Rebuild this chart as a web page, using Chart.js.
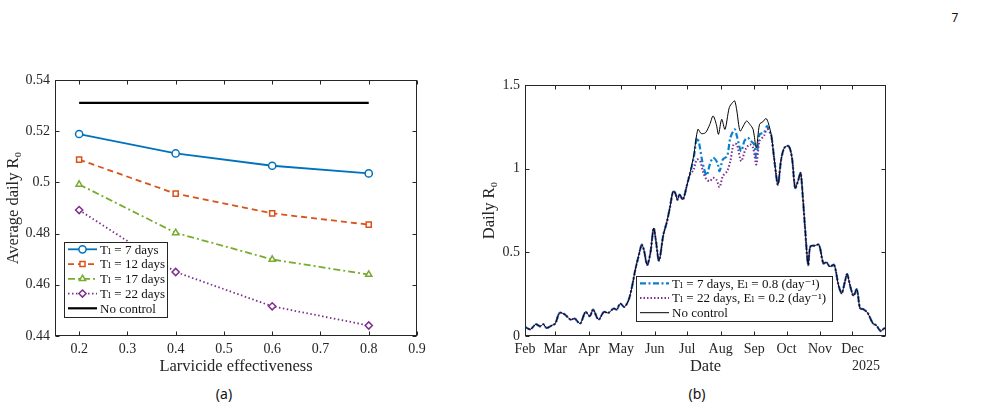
<!DOCTYPE html>
<html>
<head>
<meta charset="utf-8">
<script src="https://cdn.jsdelivr.net/npm/chart.js@4/dist/chart.umd.min.js"></script>
<style>
  html, body { margin: 0; padding: 0; background: #fff; }
  body { width: 985px; height: 408px; position: relative; overflow: hidden; }
  canvas { position: absolute; }
  .cap { position: absolute; font-family: "Noto Sans", "DejaVu Sans", sans-serif; font-size: 14px; color: #111; transform: translate(-50%, -50%); }
</style>
</head>
<body>
<canvas id="chart-a" width="450" height="320" style="left:0;top:60px"></canvas>
<canvas id="chart-b" width="450" height="320" style="left:470px;top:60px"></canvas>
<div class="cap" style="left:224px;top:393px">(a)</div>
<div class="cap" style="left:697px;top:393px">(b)</div>
<div class="cap" style="left:955px;top:17px;font-size:12px">7</div>
<script>
// --- DATA (a) ---
const effectiveness = [0.2, 0.4, 0.6, 0.8];
const r0T7 = [0.5189, 0.5113, 0.5065, 0.5035];
const r0T12 = [0.5089, 0.4956, 0.4879, 0.4835];
const r0T17 = [0.4992, 0.4803, 0.4699, 0.4640];
const r0T22 = [0.4892, 0.4650, 0.4516, 0.4441];
const r0NoControlAvg = [0.5311, 0.5311, 0.5311, 0.5311];
const xTicksA = [0.2, 0.3, 0.4, 0.5, 0.6, 0.7, 0.8, 0.9];
const yTicksA = [0.44, 0.46, 0.48, 0.5, 0.52, 0.54];

// --- DATA (b) --- day of year 2025
const days = [32, 37, 42, 46, 49, 52, 57, 60, 64, 69, 74, 78, 83, 88, 92, 95, 100, 105, 109, 114, 117, 120, 124, 128, 131, 134, 137, 140, 142, 145, 148, 151, 153, 156, 160, 163, 166, 169, 171, 173, 175, 178, 182, 184, 188, 192, 195, 199, 203, 206, 209, 211, 214, 217, 221, 224, 226, 228, 231, 234, 237, 240, 243, 246, 249, 252, 255, 257, 260, 263, 266, 269, 272, 276, 279, 282, 285, 287, 289, 291, 294, 296, 300, 304, 308, 311, 314, 318, 322, 325, 328, 330, 333, 336, 339, 342, 345, 349, 354, 357, 361, 364, 366];
const r0NoControl = [0.054, 0.04, 0.07, 0.058, 0.07, 0.048, 0.064, 0.074, 0.138, 0.128, 0.098, 0.104, 0.074, 0.144, 0.118, 0.158, 0.098, 0.144, 0.138, 0.164, 0.158, 0.194, 0.174, 0.218, 0.294, 0.395, 0.475, 0.545, 0.515, 0.425, 0.495, 0.645, 0.575, 0.45, 0.605, 0.675, 0.765, 0.865, 0.855, 0.815, 0.845, 0.815, 0.905, 0.955, 1.075, 1.235, 1.21, 1.215, 1.265, 1.315, 1.265, 1.205, 1.295, 1.235, 1.365, 1.395, 1.405, 1.345, 1.225, 1.255, 1.285, 1.265, 1.235, 1.125, 1.265, 1.28, 1.30, 1.275, 1.195, 1.035, 0.905, 1.055, 1.125, 1.135, 1.065, 0.885, 0.935, 0.975, 0.835, 0.655, 0.425, 0.535, 0.54, 0.545, 0.435, 0.44, 0.415, 0.425, 0.305, 0.255, 0.325, 0.37, 0.295, 0.24, 0.28, 0.165, 0.16, 0.138, 0.074, 0.064, 0.03, 0.044, 0.05];
// controlled runs, where they differ from no control (Jul-Sep)
const daysT7 = [188, 191, 193, 196, 200, 203, 206, 210, 212, 215, 219, 222, 226, 228, 232, 235, 238, 241, 244, 246, 249, 253, 256, 258];
const r0T7E08 = [1.06, 1.185, 1.155, 1.045, 0.96, 1.025, 1.065, 1.035, 0.985, 1.055, 1.075, 1.185, 1.235, 1.195, 1.105, 1.165, 1.185, 1.165, 1.145, 1.065, 1.205, 1.215, 1.255, 1.225];
const daysT22 = [188, 191, 194, 197, 200, 203, 206, 209, 212, 215, 219, 222, 225, 228, 232, 236, 240, 243, 246, 249, 253, 256, 259];
const r0T22E02 = [0.995, 1.055, 1.045, 0.975, 0.935, 0.925, 0.945, 0.935, 0.89, 0.955, 0.985, 1.045, 1.145, 1.145, 1.045, 1.115, 1.145, 1.125, 1.025, 1.165, 1.195, 1.235, 1.215];
const monthDays = [32, 60, 91, 121, 152, 182, 213, 244, 274, 305, 335];
const monthLabels = ['Feb', 'Mar', 'Apr', 'May', 'Jun', 'Jul', 'Aug', 'Sep', 'Oct', 'Nov', 'Dec'];
const yTicksB = [0, 0.5, 1, 1.5];

// --- HELPERS ---
const SERIF = '"Liberation Serif", "DejaVu Serif", serif';
const AX = '#262626';
const pts = (xs, ys) => xs.map((x, i) => ({ x, y: ys[i] }));
const fmtTick = (v) => String(Number(v.toFixed(2)));

// join a controlled window into the shared no-control curve
function withWindow(wx, wy) {
  const first = wx[0], last = wx[wx.length - 1];
  const before = pts(days, r0NoControl).filter(p => p.x < first);
  const after = pts(days, r0NoControl).filter(p => p.x > last);
  return before.concat(pts(wx, wy), after);
}

Chart.defaults.font.family = SERIF;
Chart.defaults.color = AX;

const boxAxes = {
  id: 'boxAxes',
  afterDatasetsDraw(chart) {
    const { ctx, chartArea: a, scales } = chart;
    const L = Math.round(a.left) + 0.5, R = Math.round(a.right) - 0.5;
    const T = Math.round(a.top) + 0.5, B = Math.round(a.bottom) - 0.5;
    const len = 4;
    ctx.save();
    ctx.strokeStyle = AX;
    ctx.lineWidth = 1;
    ctx.strokeRect(L, T, R - L, B - T);
    ctx.beginPath();
    scales.x.ticks.forEach(t => {
      const px = Math.round(scales.x.getPixelForValue(t.value)) + 0.5;
      ctx.moveTo(px, B); ctx.lineTo(px, B - len);
      ctx.moveTo(px, T); ctx.lineTo(px, T + len);
    });
    scales.y.ticks.forEach(t => {
      const py = Math.round(scales.y.getPixelForValue(t.value)) + 0.5;
      ctx.moveTo(L, py); ctx.lineTo(L + len, py);
      ctx.moveTo(R, py); ctx.lineTo(R - len, py);
    });
    ctx.stroke();
    const extra = chart.options.plugins.boxAxes && chart.options.plugins.boxAxes.note;
    if (extra) {
      ctx.font = '14px ' + SERIF;
      ctx.fillStyle = AX;
      ctx.textAlign = 'right';
      ctx.textBaseline = 'middle';
      ctx.fillText(extra.text, a.right - extra.dx, extra.y);
    }
    ctx.restore();
  }
};

const boxLegend = {
  id: 'boxLegend',
  afterDraw(chart) {
    const o = chart.options.plugins.boxLegend;
    if (!o) return;
    const { ctx } = chart;
    ctx.save();
    ctx.fillStyle = '#fff';
    ctx.fillRect(o.left, o.top, o.width, o.height);
    ctx.strokeStyle = AX;
    ctx.lineWidth = 1;
    ctx.strokeRect(o.left + 0.5, o.top + 0.5, o.width - 1, o.height - 1);
    ctx.font = o.fontSize + 'px ' + SERIF;
    ctx.textBaseline = 'middle';
    ctx.textAlign = 'left';
    o.items.forEach((di, i) => {
      const ds = chart.data.datasets[di];
      const y = o.top + o.first + i * o.rowH;
      const x0 = o.left + 4, x1 = x0 + o.sample;
      ctx.save();
      ctx.strokeStyle = ds.borderColor;
      ctx.lineWidth = ds.borderWidth;
      ctx.setLineDash(ds.borderDash || []);
      ctx.beginPath(); ctx.moveTo(x0, y); ctx.lineTo(x1, y); ctx.stroke();
      ctx.restore();
      if (ds.pointRadius) {
        ctx.save();
        ctx.strokeStyle = ds.borderColor;
        ctx.fillStyle = ds.pointBackgroundColor;
        ctx.lineWidth = ds.pointBorderWidth;
        Chart.helpers.drawPoint(ctx, { pointStyle: ds.pointStyle, radius: ds.pointRadius, rotation: 0, borderWidth: ds.pointBorderWidth }, (x0 + x1) / 2, y);
        ctx.restore();
      }
      ctx.fillStyle = '#111';
      ctx.fillText(ds.label, x1 + 3, y + 1);
    });
    ctx.restore();
  }
};

function baseScales() {
  return {
    x: {
      type: 'linear',
      grid: { display: false, drawTicks: false },
      border: { display: false },
      ticks: { font: { size: 14 }, color: AX, padding: 5, autoSkip: false, maxRotation: 0 },
      title: { display: true, font: { size: 16.5 }, color: AX, padding: { top: 0, bottom: 3 } }
    },
    y: {
      type: 'linear',
      grid: { display: false, drawTicks: false },
      border: { display: false },
      ticks: { font: { size: 14 }, color: AX, padding: 5, autoSkip: false },
      title: { display: true, font: { size: 16.5 }, color: AX, padding: { top: 4, bottom: 0 } }
    }
  };
}

// --- CHART (a) ---
const mk = (label, data, color, dash, style) => ({
  label, data: pts(effectiveness, data), borderColor: color, borderWidth: 1.8, borderDash: dash,
  pointStyle: style, pointRadius: 3.6, pointBorderWidth: 1.5, pointBackgroundColor: '#fff', pointBorderColor: color
});
const scalesA = baseScales();
scalesA.x.min = 0.15; scalesA.x.max = 0.9;
scalesA.x.afterBuildTicks = (s) => { s.ticks = xTicksA.map(v => ({ value: v })); };
scalesA.x.ticks.callback = fmtTick;
scalesA.x.afterFit = (s) => { s.height = 44; };
scalesA.x.title.text = 'Larvicide effectiveness';
scalesA.y.min = 0.44; scalesA.y.max = 0.54;
scalesA.y.afterBuildTicks = (s) => { s.ticks = yTicksA.map(v => ({ value: v })); };
scalesA.y.ticks.callback = fmtTick;
scalesA.y.afterFit = (s) => { s.width = 55; };
scalesA.y.title.text = 'Average daily R\u2080';

new Chart(document.getElementById('chart-a'), {
  type: 'line',
  data: {
    datasets: [
      mk('T\u2097 = 7 days', r0T7, '#0072BD', [], 'circle'),
      mk('T\u2097 = 12 days', r0T12, '#D95319', [6, 4], 'rect'),
      mk('T\u2097 = 17 days', r0T17, '#77AC30', [7, 3, 2, 3], 'triangle'),
      mk('T\u2097 = 22 days', r0T22, '#7E2F8E', [1.5, 2.5], 'rectRot'),
      { label: 'No control', data: pts(effectiveness, r0NoControlAvg), borderColor: '#000', borderWidth: 2.2, borderDash: [], pointRadius: 0 }
    ]
  },
  options: {
    responsive: false, animation: false, devicePixelRatio: 1,
    layout: { padding: { left: 0, right: 33, top: 20, bottom: 0 } },
    scales: scalesA,
    plugins: {
      legend: { display: false }, tooltip: { enabled: false },
      boxLegend: { left: 64, top: 182, width: 104, height: 76, first: 7.3, rowH: 14.75, sample: 29, fontSize: 13, items: [0, 1, 2, 3, 4] }
    }
  },
  plugins: [boxAxes, boxLegend]
});

// --- CHART (b) ---
const scalesB = baseScales();
scalesB.x.min = 32; scalesB.x.max = 366;
scalesB.x.afterBuildTicks = (s) => { s.ticks = monthDays.map(v => ({ value: v })); };
scalesB.x.ticks.callback = (v, i) => monthLabels[i];
scalesB.x.afterFit = (s) => { s.height = 44; };
scalesB.x.title.text = 'Date';
scalesB.y.min = 0; scalesB.y.max = 1.5;
scalesB.y.afterBuildTicks = (s) => { s.ticks = yTicksB.map(v => ({ value: v })); };
scalesB.y.ticks.callback = fmtTick;
scalesB.y.afterFit = (s) => { s.width = 55; };
scalesB.y.title.text = 'Daily R\u2080';
scalesB.y.title.padding = { top: 10, bottom: 0 };

new Chart(document.getElementById('chart-b'), {
  type: 'line',
  data: {
    datasets: [
      { label: 'T\u2097 = 7 days, E\u2097 = 0.8 (day\u207B\u00B9)', data: withWindow(daysT7, r0T7E08), borderColor: '#0b7fd0', borderWidth: 2.2, borderDash: [6, 2.5, 2, 2.5], pointRadius: 0, tension: 0.3, order: 2 },
      { label: 'T\u2097 = 22 days, E\u2097 = 0.2 (day\u207B\u00B9)', data: withWindow(daysT22, r0T22E02), borderColor: '#7E2F8E', borderWidth: 2, borderDash: [1.5, 2], pointRadius: 0, tension: 0.3, order: 1 },
      { label: 'No control', data: pts(days, r0NoControl), borderColor: '#000', borderWidth: 1, borderDash: [], pointRadius: 0, tension: 0.3, order: 0 }
    ]
  },
  options: {
    responsive: false, animation: false, devicePixelRatio: 1,
    layout: { padding: { left: 0, right: 34, top: 25, bottom: 0 } },
    scales: scalesB,
    plugins: {
      legend: { display: false }, tooltip: { enabled: false },
      boxAxes: { note: { text: '2025', dx: 6, y: 306 } },
      boxLegend: { left: 166, top: 216, width: 197, height: 46, first: 7.3, rowH: 14.7, sample: 29, fontSize: 13, items: [0, 1, 2] }
    }
  },
  plugins: [boxAxes, boxLegend]
});
</script>
</body>
</html>
